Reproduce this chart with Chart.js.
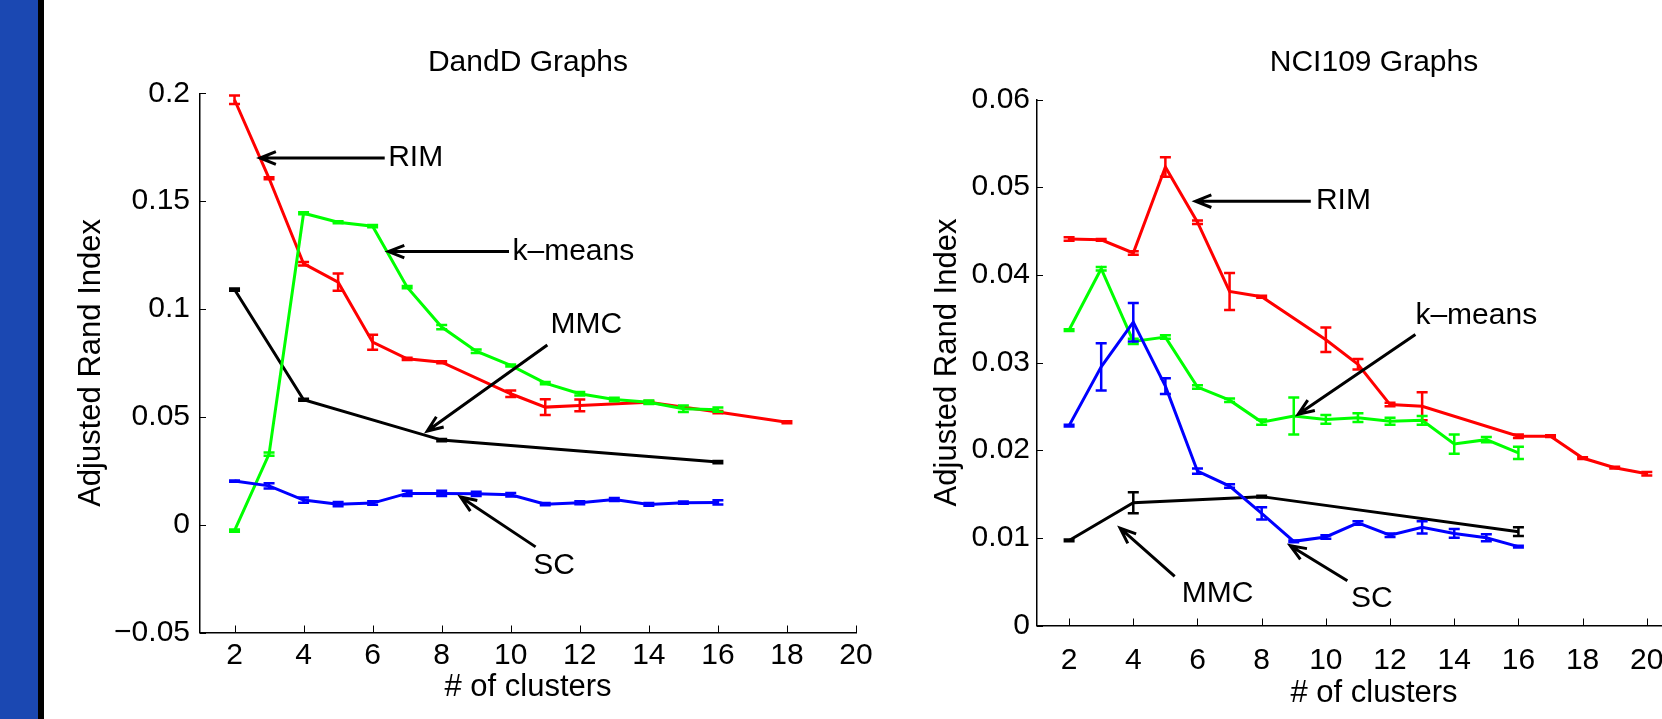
<!DOCTYPE html>
<html>
<head>
<meta charset="utf-8">
<script src="https://cdn.jsdelivr.net/npm/chart.js@4.4.0/dist/chart.umd.min.js"></script>
<style>
  html, body { margin: 0; padding: 0; background: #fff; }
  body { width: 1662px; height: 719px; overflow: hidden; position: relative; }
  #stripe { position: absolute; left: 0; top: 0; width: 38px; height: 719px; background: #1b48b2; }
  #stripeEdge { position: absolute; left: 38px; top: 0; width: 6px; height: 719px; background: #000; }
  #dandd { position: absolute; left: 44px; top: 0; }
  #nci { position: absolute; left: 900px; top: 0; }
</style>
</head>
<body>
<div id="stripe"></div><div id="stripeEdge"></div>
<canvas id="dandd" width="852" height="719"></canvas>
<canvas id="nci" width="851" height="719"></canvas>
<script>
"use strict";

const FONT = '"Liberation Sans", Arial, Helvetica, sans-serif';

// x ticks shared by both panels
const clusterTicks = [2, 4, 6, 8, 10, 12, 14, 16, 18, 20];

// ---- DandD Graphs ----
const ddYTicks  = [-0.05, 0, 0.05, 0.1, 0.15, 0.2];
const ddYLabels = ['\u22120.05', '0', '0.05', '0.1', '0.15', '0.2'];

const ddRimX   = [2, 3, 4, 5, 6, 7, 8, 10, 11, 12, 14, 16, 18];
const ddRimY   = [0.197, 0.1606, 0.121, 0.1124, 0.0846, 0.0769, 0.0753, 0.0607, 0.0545, 0.0553, 0.0568, 0.0522, 0.0475];
const ddRimErr = [0.002, 0.0005, 0.0008, 0.004, 0.0035, 0.0005, 0.0005, 0.0015, 0.0036, 0.0027, 0.0005, 0.0005, 0.0005];

const ddKmX   = [2, 3, 4, 5, 6, 7, 8, 9, 10, 11, 12, 13, 14, 15, 16];
const ddKmY   = [-0.0028, 0.0327, 0.1444, 0.1402, 0.1384, 0.1101, 0.0916, 0.0804, 0.0738, 0.0656, 0.0607, 0.058, 0.0568, 0.0537, 0.0533];
const ddKmErr = [0.0005, 0.0008, 0.0005, 0.0005, 0.0005, 0.0005, 0.001, 0.0008, 0.0005, 0.0005, 0.0008, 0.0008, 0.0008, 0.0015, 0.001];

const ddMmcX   = [2, 4, 8, 16];
const ddMmcY   = [0.109, 0.0579, 0.0392, 0.029];
const ddMmcErr = [0.0005, 0.0005, 0.0005, 0.0005];

const ddScX   = [2, 3, 4, 5, 6, 7, 8, 9, 10, 11, 12, 13, 14, 15, 16];
const ddScY   = [0.0202, 0.018, 0.0114, 0.0095, 0.01, 0.0145, 0.0145, 0.0143, 0.0139, 0.0095, 0.0102, 0.0117, 0.0094, 0.0102, 0.0103];
const ddScErr = [0.0003, 0.0012, 0.0012, 0.001, 0.0008, 0.0012, 0.0012, 0.001, 0.0008, 0.0005, 0.0007, 0.0007, 0.0006, 0.0005, 0.001];

// ---- NCI109 Graphs ----
const nciYTicks  = [0, 0.01, 0.02, 0.03, 0.04, 0.05, 0.06];
const nciYLabels = ['0', '0.01', '0.02', '0.03', '0.04', '0.05', '0.06'];

const nciRimX   = [2, 3, 4, 5, 6, 7, 8, 10, 11, 12, 13, 16, 17, 18, 19, 20];
const nciRimY   = [0.0441, 0.044, 0.0425, 0.0523, 0.046, 0.0381, 0.0375, 0.0326, 0.0298, 0.0252, 0.025, 0.0216, 0.0216, 0.0191, 0.018, 0.0173];
const nciRimErr = [0.0002, 0.0001, 0.0002, 0.0011, 0.0002, 0.0021, 0.0001, 0.0014, 0.0006, 0.0002, 0.0016, 0.0002, 0.0001, 0.0001, 0.0001, 0.0002];

const nciKmX   = [2, 3, 4, 5, 6, 7, 8, 9, 10, 11, 12, 13, 14, 15, 16];
const nciKmY   = [0.0337, 0.0407, 0.0324, 0.0329, 0.0272, 0.0257, 0.0232, 0.0239, 0.0235, 0.0237, 0.0233, 0.0234, 0.0207, 0.0212, 0.0197];
const nciKmErr = [0.0001, 0.0002, 0.0003, 0.0002, 0.0002, 0.0002, 0.0003, 0.0021, 0.0005, 0.0005, 0.0004, 0.0005, 0.0011, 0.0003, 0.0007];

const nciMmcX   = [2, 4, 8, 16];
const nciMmcY   = [0.0097, 0.014, 0.0147, 0.0107];
const nciMmcErr = [0.0001, 0.0012, 0.0001, 0.0005];

const nciScX   = [2, 3, 4, 5, 6, 7, 8, 9, 10, 11, 12, 13, 14, 15, 16];
const nciScY   = [0.0228, 0.0295, 0.0346, 0.0273, 0.0176, 0.0159, 0.0128, 0.0096, 0.0101, 0.0117, 0.0103, 0.0112, 0.0105, 0.01, 0.009];
const nciScErr = [0.0001, 0.0027, 0.0022, 0.0009, 0.0003, 0.0002, 0.0007, 0.0001, 0.0002, 0.0002, 0.0002, 0.0007, 0.0005, 0.0004, 0.0001];

// arrow labels, in data units
const ddNotes = [
  { text: 'RIM',          at: [6.45, 0.170],    from: [6.35, 0.170],    to: [2.74, 0.170] },
  { text: 'k\u2013means', at: [10.05, 0.1266],  from: [9.95, 0.1266],   to: [6.46, 0.1266] },
  { text: 'MMC',          at: [11.15, 0.0926],  from: [11.06, 0.0833],  to: [7.58, 0.0434] },
  { text: 'SC',           at: [10.65, -0.0192], from: [10.72, -0.0103], to: [8.55, 0.0128] }
];
const nciNotes = [
  { text: 'RIM',          at: [9.69, 0.0484],   from: [9.53, 0.0484],   to: [5.94, 0.0484] },
  { text: 'k\u2013means', at: [12.79, 0.0353],  from: [12.79, 0.0332],  to: [9.14, 0.0241] },
  { text: 'MMC',          at: [5.51, 0.0036],   from: [5.29, 0.0056],   to: [3.59, 0.0111] },
  { text: 'SC',           at: [10.78, 0.003],   from: [10.67, 0.0051],  to: [8.89, 0.0091] }
];

function pts(xs, ys) {
  return xs.map((x, i) => ({ x: x, y: ys[i] }));
}

function series(xs, ys, errs, color) {
  return {
    data: pts(xs, ys),
    errors: errs,
    borderColor: color,
    borderWidth: 3,
    pointRadius: 0,
    tension: 0,
    fill: false
  };
}

// MATLAB style error bars with caps
const errorBars = {
  id: 'errorBars',
  afterDatasetDraw(chart, args) {
    const ds = chart.data.datasets[args.index];
    if (!ds.errors) return;
    const ys = chart.scales.y;
    const ctx = chart.ctx;
    ctx.save();
    ctx.strokeStyle = ds.borderColor;
    ctx.lineWidth = 2.5;
    args.meta.data.forEach((p, i) => {
      const v = ds.data[i].y, e = ds.errors[i];
      const top = ys.getPixelForValue(v + e);
      const bot = ys.getPixelForValue(v - e);
      ctx.beginPath();
      ctx.moveTo(p.x, top); ctx.lineTo(p.x, bot);
      ctx.moveTo(p.x - 5.5, top); ctx.lineTo(p.x + 5.5, top);
      ctx.moveTo(p.x - 5.5, bot); ctx.lineTo(p.x + 5.5, bot);
      ctx.stroke();
    });
    ctx.restore();
  }
};

// tick marks pointing into the axes
const innerTicks = {
  id: 'innerTicks',
  afterDraw(chart) {
    const ctx = chart.ctx, a = chart.chartArea;
    const xs = chart.scales.x, ys = chart.scales.y;
    ctx.save();
    ctx.strokeStyle = '#000';
    ctx.lineWidth = 1;
    ctx.beginPath();
    xs.ticks.forEach(t => {
      const px = Math.round(xs.getPixelForValue(t.value)) + 0.5;
      ctx.moveTo(px, a.bottom); ctx.lineTo(px, a.bottom - 7);
    });
    ys.ticks.forEach(t => {
      const py = Math.round(ys.getPixelForValue(t.value)) + 0.5;
      ctx.moveTo(a.left, py); ctx.lineTo(a.left + 6, py);
    });
    ctx.stroke();
    ctx.restore();
  }
};

const arrowNotes = {
  id: 'arrowNotes',
  afterDraw(chart) {
    const notes = chart.options.plugins.arrowNotes.notes;
    const ctx = chart.ctx;
    const xs = chart.scales.x, ys = chart.scales.y;
    ctx.save();
    ctx.strokeStyle = '#000';
    ctx.fillStyle = '#000';
    ctx.lineWidth = 3;
    ctx.font = '30px ' + FONT;
    ctx.textAlign = 'left';
    ctx.textBaseline = 'middle';
    notes.forEach(n => {
      const x0 = xs.getPixelForValue(n.from[0]), y0 = ys.getPixelForValue(n.from[1]);
      const x1 = xs.getPixelForValue(n.to[0]), y1 = ys.getPixelForValue(n.to[1]);
      const ang = Math.atan2(y1 - y0, x1 - x0);
      const len = 17, spread = 0.38;
      ctx.beginPath();
      ctx.moveTo(x0, y0); ctx.lineTo(x1, y1);
      ctx.moveTo(x1 - len * Math.cos(ang - spread), y1 - len * Math.sin(ang - spread));
      ctx.lineTo(x1, y1);
      ctx.lineTo(x1 - len * Math.cos(ang + spread), y1 - len * Math.sin(ang + spread));
      ctx.stroke();
      ctx.fillText(n.text, xs.getPixelForValue(n.at[0]), ys.getPixelForValue(n.at[1]));
    });
    ctx.restore();
  }
};

function panel(id, p) {
  return new Chart(document.getElementById(id), {
    type: 'line',
    data: {
      // first dataset is drawn on top
      datasets: [
        series(p.sc[0], p.sc[1], p.sc[2], '#0000ff'),
        series(p.km[0], p.km[1], p.km[2], '#00ff00'),
        series(p.rim[0], p.rim[1], p.rim[2], '#ff0000'),
        series(p.mmc[0], p.mmc[1], p.mmc[2], '#000000')
      ]
    },
    options: {
      responsive: false,
      animation: false,
      devicePixelRatio: 1,
      layout: { padding: { left: 0, right: 40, top: 0, bottom: 0 } },
      plugins: {
        legend: { display: false },
        tooltip: { enabled: false },
        title: {
          display: true, text: p.title, fullSize: false, color: '#000',
          font: { family: FONT, size: 30, weight: 'normal' },
          padding: { top: 44.7, bottom: p.titleGap }
        },
        arrowNotes: { notes: p.notes }
      },
      scales: {
        x: {
          type: 'linear', min: 1, max: p.xMax,
          afterBuildTicks: s => { s.ticks = clusterTicks.map(v => ({ value: v })); },
          afterFit: s => { s.height = p.xAxisH; },
          grid: { display: false, drawTicks: false },
          border: { display: true, color: '#000', width: 1.5 },
          ticks: {
            color: '#000', padding: p.xTickPad, maxRotation: 0, autoSkip: false,
            font: { family: FONT, size: 30 },
            callback: v => String(v)
          },
          title: {
            display: true, text: '# of clusters', color: '#000',
            font: { family: FONT, size: 31 },
            padding: { top: 0, bottom: p.xTitlePad }
          }
        },
        y: {
          type: 'linear', min: p.yTicks[0], max: p.yTicks[p.yTicks.length - 1],
          afterBuildTicks: s => { s.ticks = p.yTicks.map(v => ({ value: v })); },
          afterFit: s => { s.width = p.yAxisW; },
          grid: { display: false, drawTicks: false },
          border: { display: true, color: '#000', width: 1.5 },
          ticks: {
            color: '#000', padding: p.tickGap,
            font: { family: FONT, size: 30 },
            callback: v => p.yLabels[p.yTicks.indexOf(v)]
          },
          title: {
            display: true, text: 'Adjusted Rand Index', color: '#000',
            font: { family: FONT, size: 31 },
            padding: { top: p.labelPad, bottom: 0 }
          }
        }
      }
    },
    plugins: [errorBars, innerTicks, arrowNotes]
  });
}

panel('dandd', {
  title: 'DandD Graphs', titleGap: 12.6, xMax: 20, xAxisH: 86.5,
  xTickPad: 5, xTitlePad: 13,
  yAxisW: 156, labelPad: 28.5, tickGap: 10,
  yTicks: ddYTicks, yLabels: ddYLabels, notes: ddNotes,
  rim: [ddRimX, ddRimY, ddRimErr], km: [ddKmX, ddKmY, ddKmErr],
  mmc: [ddMmcX, ddMmcY, ddMmcErr], sc: [ddScX, ddScY, ddScErr]
});

panel('nci', {
  title: 'NCI109 Graphs', titleGap: 18.8, xMax: 22, xAxisH: 93.5,
  xTickPad: 17, xTitlePad: 6.5,
  yAxisW: 137, labelPad: 28.6, tickGap: 7,
  yTicks: nciYTicks, yLabels: nciYLabels, notes: nciNotes,
  rim: [nciRimX, nciRimY, nciRimErr], km: [nciKmX, nciKmY, nciKmErr],
  mmc: [nciMmcX, nciMmcY, nciMmcErr], sc: [nciScX, nciScY, nciScErr]
});
</script>
</body>
</html>
